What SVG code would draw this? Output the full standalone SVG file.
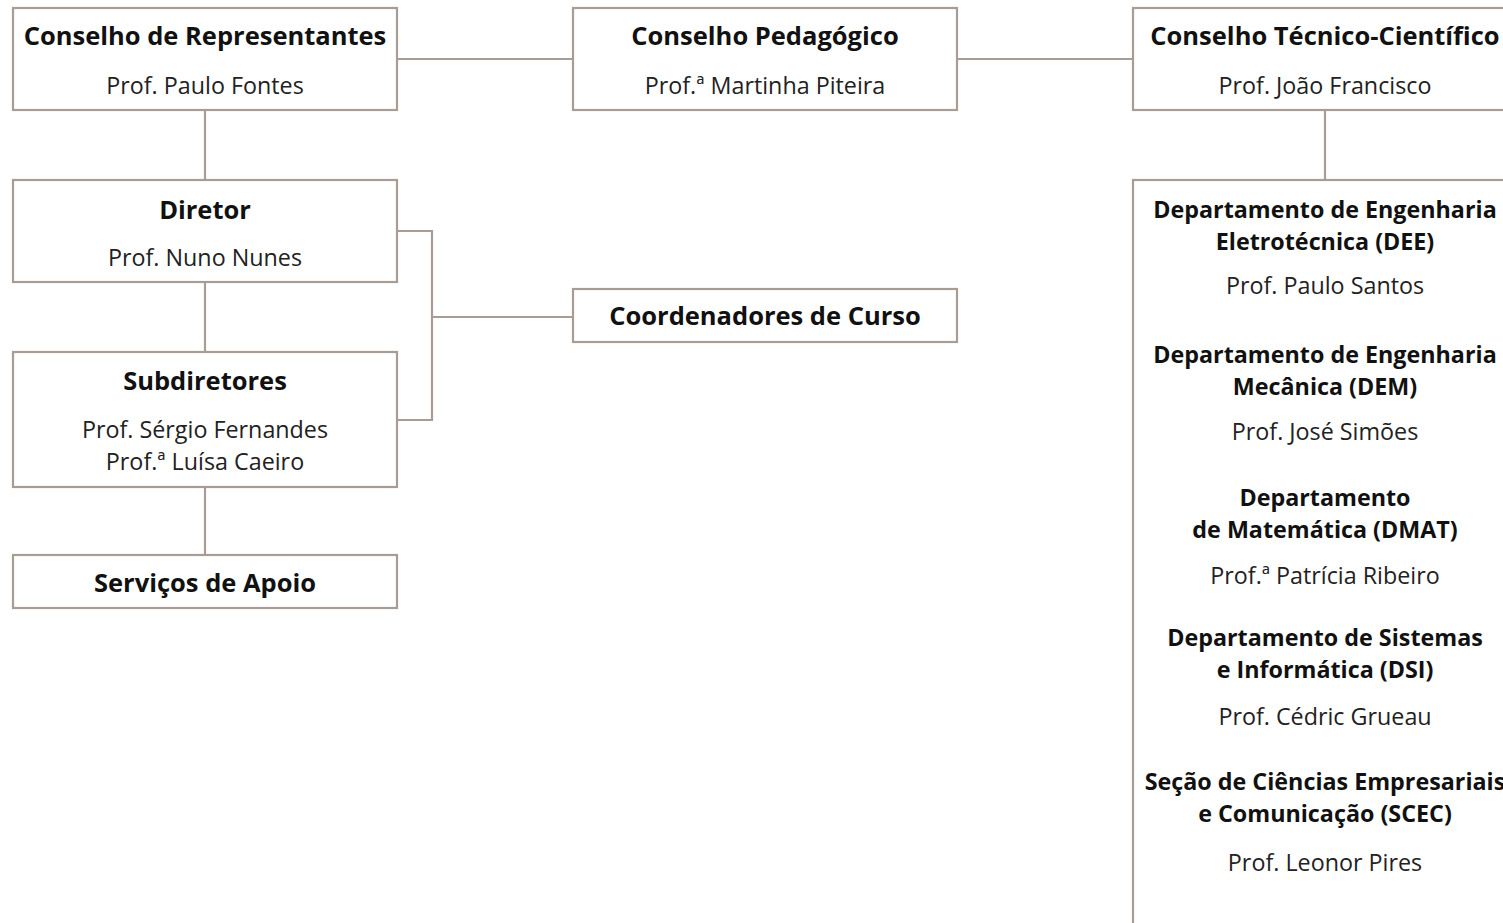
<svg xmlns="http://www.w3.org/2000/svg" width="1503" height="923" viewBox="0 0 1503 923">
<style>
.box{fill:#fff;stroke:#a89d95;stroke-width:2.2}
.ln{fill:none;stroke:#a89d95;stroke-width:2.2}
.t{font-family:"Open Sans","Noto Sans",sans-serif;font-weight:700;font-size:25.5px;fill:#111;text-anchor:middle}
.d{font-family:"Open Sans","Noto Sans",sans-serif;font-weight:700;font-size:23.3px;fill:#111;text-anchor:middle}
.n{font-family:"Open Sans","Noto Sans",sans-serif;font-weight:400;font-size:23.3px;fill:#222;text-anchor:middle}
</style>
<rect width="1503" height="923" fill="#fff"/>
<g id="connectors">
<path class="ln" d="M397,59H573"/>
<path class="ln" d="M957,59H1133"/>
<path class="ln" d="M205,110V180"/>
<path class="ln" d="M205,282V352"/>
<path class="ln" d="M205,487V555"/>
<path class="ln" d="M397,231H432V420H397"/>
<path class="ln" d="M432,317H573"/>
<path class="ln" d="M1325,110V180"/>
</g>
<g id="conselho-representantes">
<rect class="box" x="13" y="8" width="384" height="102"/>
<text class="t" x="205" y="45">Conselho de Representantes</text>
<text class="n" x="205" y="94">Prof. Paulo Fontes</text>
</g>
<g id="conselho-pedagogico">
<rect class="box" x="573" y="8" width="384" height="102"/>
<text class="t" x="765" y="45">Conselho Pedagógico</text>
<text class="n" x="765" y="94">Prof.ª Martinha Piteira</text>
</g>
<g id="conselho-tecnico-cientifico">
<rect class="box" x="1133" y="8" width="384" height="102"/>
<text class="t" x="1325" y="45">Conselho Técnico-Científico</text>
<text class="n" x="1325" y="94">Prof. João Francisco</text>
</g>
<g id="diretor">
<rect class="box" x="13" y="180" width="384" height="102"/>
<text class="t" x="205" y="219">Diretor</text>
<text class="n" x="205" y="266">Prof. Nuno Nunes</text>
</g>
<g id="subdiretores">
<rect class="box" x="13" y="352" width="384" height="135"/>
<text class="t" x="205" y="390">Subdiretores</text>
<text class="n" x="205" y="438">Prof. Sérgio Fernandes</text>
<text class="n" x="205" y="470">Prof.ª Luísa Caeiro</text>
</g>
<g id="servicos-apoio">
<rect class="box" x="13" y="555" width="384" height="53"/>
<text class="t" x="205" y="592">Serviços de Apoio</text>
</g>
<g id="coordenadores-curso">
<rect class="box" x="573" y="289" width="384" height="53"/>
<text class="t" x="765" y="325">Coordenadores de Curso</text>
</g>
<g id="departamentos">
<rect class="box" x="1133" y="180" width="384" height="760"/>
<text class="d" x="1325" y="218">Departamento de Engenharia</text>
<text class="d" x="1325" y="250">Eletrotécnica (DEE)</text>
<text class="n" x="1325" y="294">Prof. Paulo Santos</text>
<text class="d" x="1325" y="363">Departamento de Engenharia</text>
<text class="d" x="1325" y="395">Mecânica (DEM)</text>
<text class="n" x="1325" y="440">Prof. José Simões</text>
<text class="d" x="1325" y="506">Departamento</text>
<text class="d" x="1325" y="538">de Matemática (DMAT)</text>
<text class="n" x="1325" y="584">Prof.ª Patrícia Ribeiro</text>
<text class="d" x="1325" y="646">Departamento de Sistemas</text>
<text class="d" x="1325" y="678">e Informática (DSI)</text>
<text class="n" x="1325" y="725">Prof. Cédric Grueau</text>
<text class="d" x="1325" y="790">Seção de Ciências Empresariais</text>
<text class="d" x="1325" y="822">e Comunicação (SCEC)</text>
<text class="n" x="1325" y="871">Prof. Leonor Pires</text>
</g>
</svg>
